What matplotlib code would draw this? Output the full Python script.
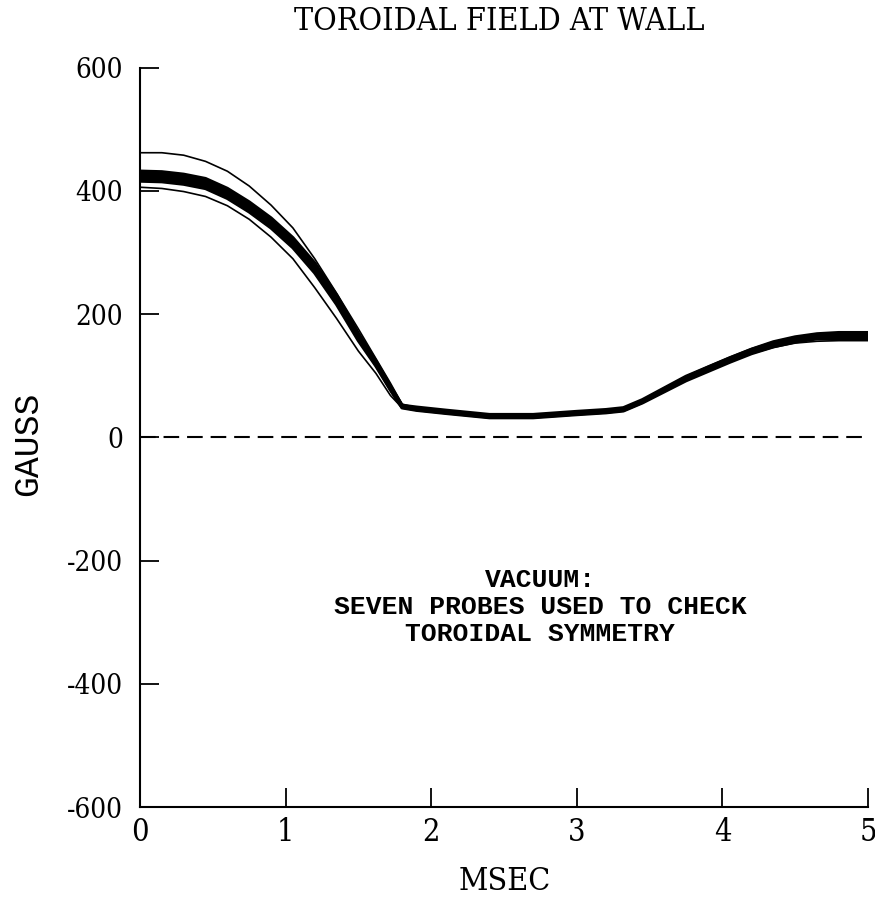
import matplotlib.pyplot as plt
import numpy as np

plt.rcParams['axes.unicode_minus'] = False

# time in msec
t = [0, 0.15, 0.3, 0.45, 0.6, 0.75, 0.9, 1.05, 1.2, 1.35, 1.5, 1.62, 1.72, 1.8,
     1.9, 2.1, 2.4, 2.7, 3.0, 3.2, 3.32, 3.45, 3.6, 3.75, 3.9, 4.05, 4.2, 4.35,
     4.5, 4.65, 4.8, 5.0]

# seven probes, gauss
probe1 = [462, 462, 458, 448, 432, 408, 377, 340, 290, 234, 176, 128, 88, 54,
          48, 43, 36, 35, 40, 43, 46, 60, 80, 99, 115, 130, 144, 155, 163, 168, 170, 170]
probe2 = [432, 431, 427, 420, 404, 382, 356, 324, 283, 231, 169, 124, 83, 52,
          49, 44, 37, 37, 42, 45, 48, 61, 80, 99, 114, 129, 143, 155, 163, 168, 170, 170]
probe3 = [428, 427, 423, 416, 400, 378, 352, 320, 279, 228, 166, 122, 82, 51,
          47, 42, 35, 35, 40, 43, 46, 59, 78, 97, 112, 127, 141, 153, 161, 166, 168, 168]
probe4 = [424, 423, 419, 412, 396, 374, 348, 316, 275, 224, 163, 120, 80, 50,
          46, 41, 34, 34, 39, 42, 45, 58, 77, 96, 111, 126, 140, 151, 159, 164, 166, 166]
probe5 = [420, 419, 415, 408, 392, 370, 344, 312, 271, 220, 160, 118, 78, 49,
          45, 40, 33, 33, 38, 41, 44, 57, 76, 94, 109, 124, 138, 149, 157, 162, 163, 163]
probe6 = [406, 404, 399, 391, 376, 354, 325, 290, 243, 193, 140, 104, 68, 48,
          44, 39, 32, 32, 37, 40, 43, 56, 75, 94, 109, 123, 136, 146, 153, 156, 157, 157]
probe7 = [416, 415, 411, 404, 388, 366, 340, 308, 267, 216, 157, 116, 77, 48,
          44, 39, 32, 32, 37, 40, 43, 56, 74, 92, 107, 122, 136, 147, 155, 160, 160, 160]

x_ticks = [0, 1, 2, 3, 4, 5]
y_ticks = [-600, -400, -200, 0, 200, 400, 600]

fig = plt.figure(figsize=(8.75, 9.15), dpi=100)
ax = fig.add_axes([0.16, 0.118, 0.832, 0.808])

for p, lw in [(probe1, 1.2), (probe6, 1.2), (probe2, 2.4), (probe3, 2.4),
              (probe4, 2.4), (probe5, 2.4), (probe7, 2.4)]:
    ax.plot(t, p, color='black', lw=lw, solid_joinstyle='round')

ax.axhline(0, color='black', lw=1.5, dashes=(7.5, 3.8))

ax.set_xlim(0, 5)
ax.set_ylim(-600, 600)
ax.set_xticks(x_ticks)
ax.set_yticks(y_ticks)
ax.spines['top'].set_visible(False)
ax.spines['right'].set_visible(False)
ax.spines['left'].set_linewidth(1.5)
ax.spines['bottom'].set_linewidth(1.5)
ax.tick_params(direction='in', length=14, width=1.3)
ax.tick_params(axis='x', pad=7)
ax.tick_params(axis='y', pad=12)

cond = dict(family='DejaVu Serif', stretch='condensed')
for lab in ax.get_xticklabels():
    lab.set(**cond, fontsize=22)
for lab in ax.get_yticklabels():
    lab.set(**cond, fontsize=20)

ax.set_title('TOROIDAL FIELD AT WALL', fontsize=23, x=0.494, y=1.051, va='center', **cond)
ax.set_xlabel('MSEC', fontsize=23, va='center', **cond)
ax.xaxis.set_label_coords(0.501, -0.101)
ax.set_ylabel('GAUSS', fontsize=25, family='Liberation Mono', va='center')
ax.yaxis.set_label_coords(-0.154, 0.491)

ax.text(2.75, -275, 'VACUUM:\nSEVEN PROBES USED TO CHECK\nTOROIDAL SYMMETRY',
        ha='center', va='center', fontsize=19, family='Liberation Mono',
        fontweight='bold', linespacing=1.15)

fig.savefig('out.png', dpi=100)
